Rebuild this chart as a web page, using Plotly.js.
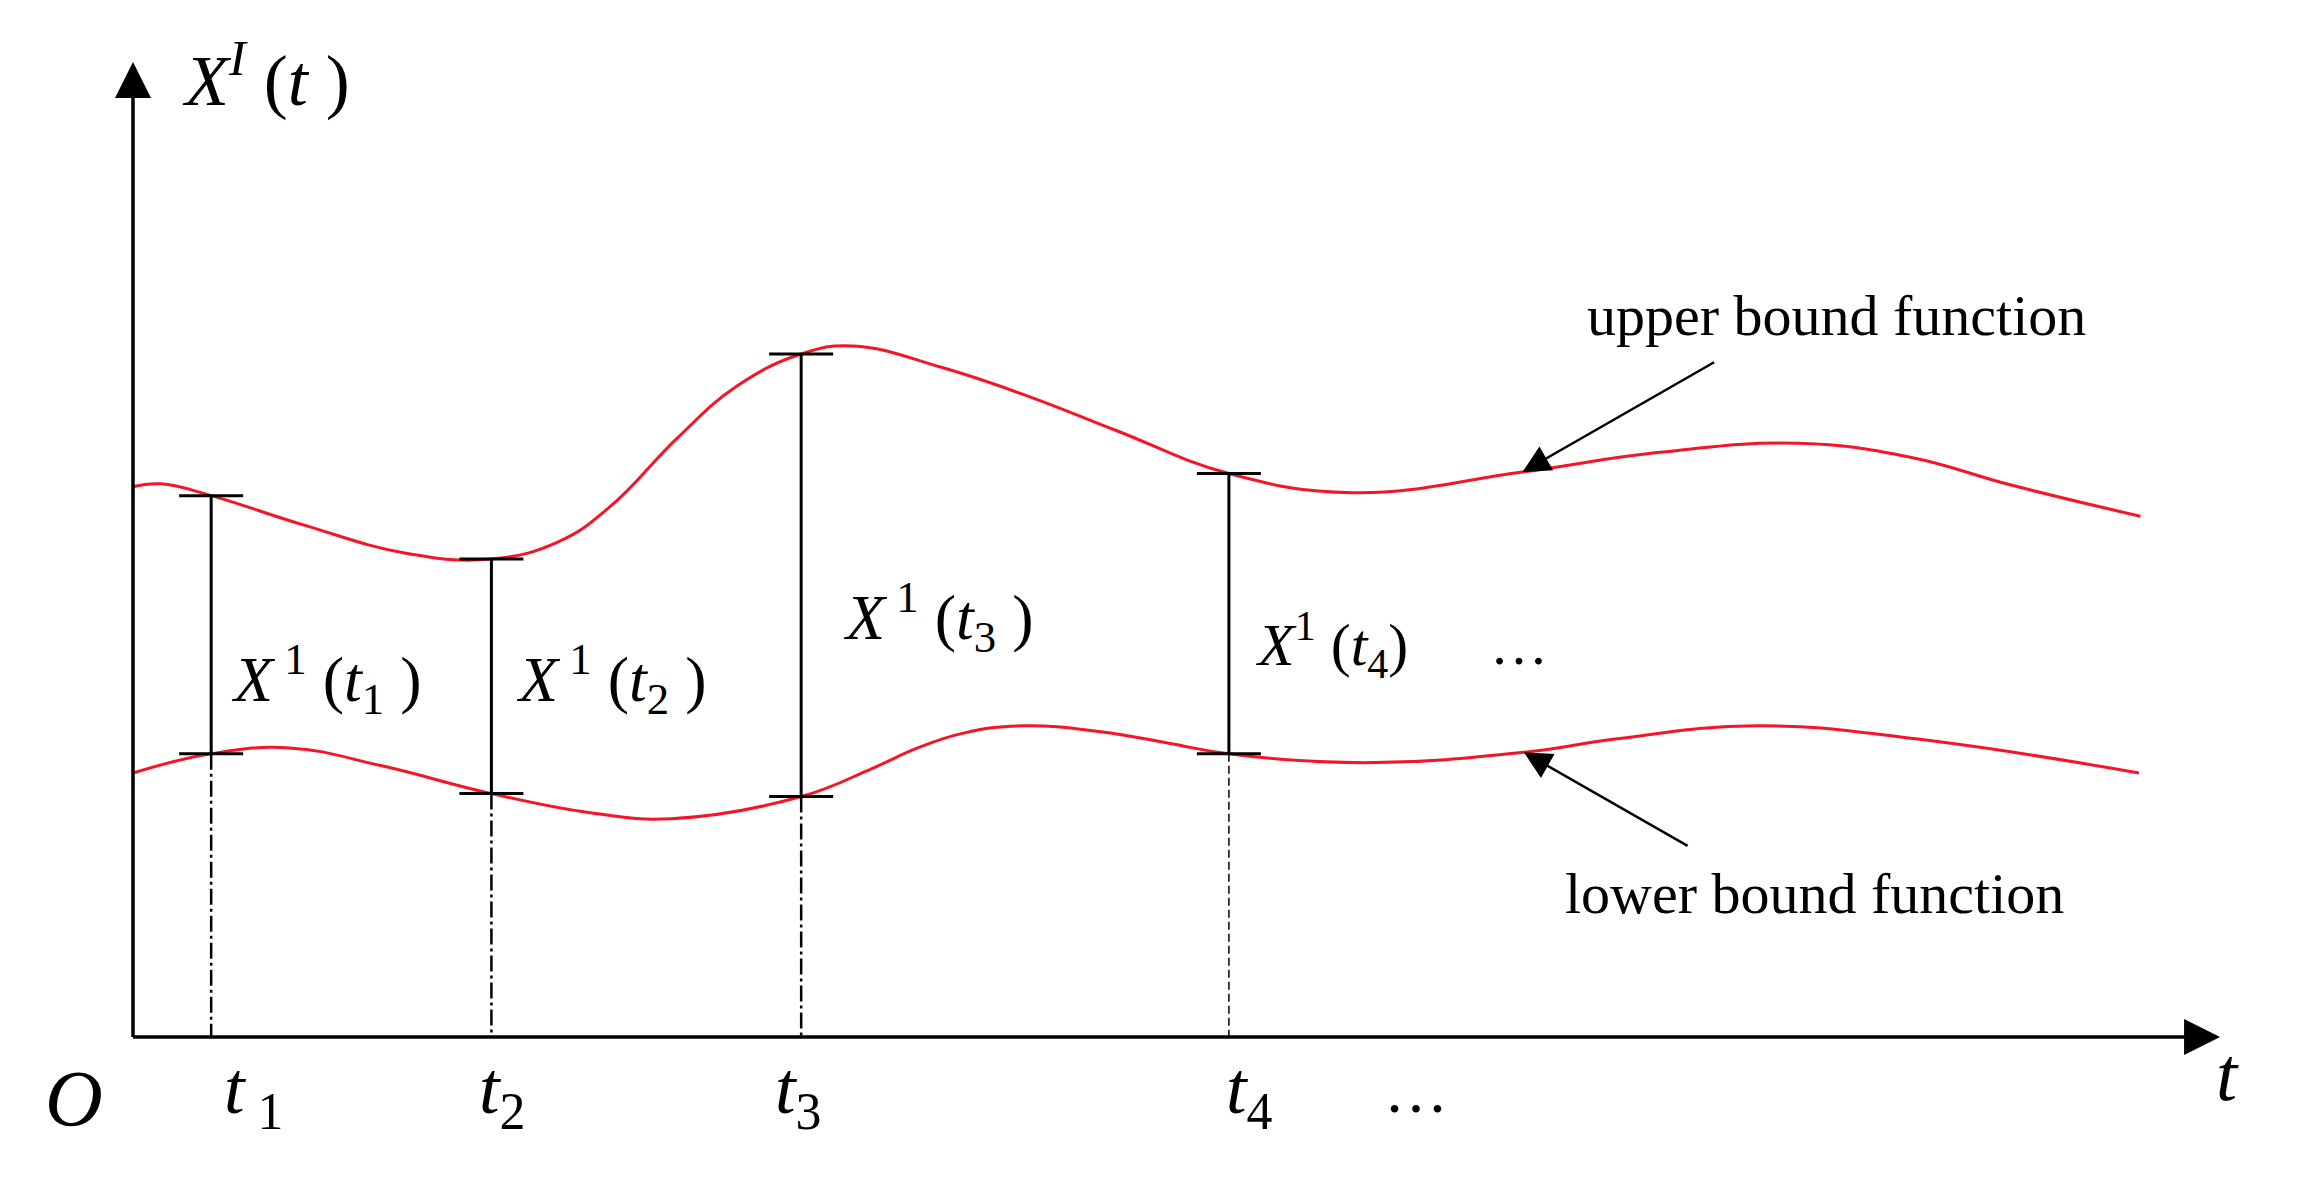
<!DOCTYPE html>
<html>
<head>
<meta charset="utf-8">
<script src="https://cdn.plot.ly/plotly-3.0.1.min.js"></script>
<style>
  html, body { margin: 0; padding: 0; background: #fff; }
  #chart { width: 2313px; height: 1182px; }
</style>
</head>
<body>
<div id="chart"></div>
<script>
// upper bound function
var upperT = [0, 0.19, 0.53, 1.16, 1.85, 2.43, 2.89, 3.24, 3.69, 4.09, 4.53, 4.88, 5.48, 6.08, 6.67, 7.43, 8.27, 9.42, 10.32, 11.29, 12.05, 12.74, 13.61];
var upperX = [3.73, 3.75, 3.67, 3.47, 3.28, 3.24, 3.36, 3.60, 4.06, 4.41, 4.63, 4.685, 4.54, 4.34, 4.11, 3.82, 3.69, 3.83, 3.96, 4.025, 3.93, 3.74, 3.53];

// lower bound function
var lowerT = [0, 0.53, 1.06, 1.68, 2.43, 3.10, 3.65, 4.53, 5.01, 5.32, 5.63, 6.03, 6.56, 7.03, 7.43, 8.34, 9.43, 10.05, 11.01, 12.10, 13.60];
var lowerX = [1.79, 1.92, 1.96, 1.84, 1.65, 1.52, 1.48, 1.63, 1.82, 1.96, 2.06, 2.11, 2.07, 1.99, 1.92, 1.86, 1.93, 2.02, 2.11, 2.02, 1.79];

// sample times and the interval values there
var sampleT = [0.53, 2.43, 4.53, 7.43];
var sampleUpper = [3.67, 3.24, 4.63, 3.82];
var sampleLower = [1.92, 1.65, 1.63, 1.92];
var tickLabels = ['<i>t</i><sub> 1</sub>', '<i>t</i><sub>2</sub>', '<i>t</i><sub>3</sub>', '<i>t</i><sub>4</sub>'];
var tickLabelT = [0.60, 2.33, 4.34, 7.40];
var valueLabels = [
  '<i>X</i><sup> 1</sup> (<i>t</i><sub>1</sub> )',
  '<i>X</i><sup> 1</sup> (<i>t</i><sub>2</sub> )',
  '<i>X</i><sup> 1</sup> (<i>t</i><sub>3</sub> )',
  '<i>X</i><sup>1</sup> (<i>t</i><sub>4</sub>)'
];
var valueLabelT = [0.65, 2.58, 4.80, 7.60];
var valueLabelX = [2.43, 2.43, 2.85, 2.66];

var axisEndT = 14.15, axisEndX = 6.61;
var red = 'rgb(245,20,40)';
var serif = 'Liberation Serif, Times New Roman, serif';

var mid = sampleT.map(function (t, i) { return (sampleUpper[i] + sampleLower[i]) / 2; });
var half = sampleT.map(function (t, i) { return (sampleUpper[i] - sampleLower[i]) / 2; });

function drops(idx) {
  var x = [], y = [];
  idx.forEach(function (i) { x.push(sampleT[i], sampleT[i], null); y.push(sampleLower[i], 0, null); });
  return {x: x, y: y};
}
var d123 = drops([0, 1, 2]), d4 = drops([3]);

var data = [
  {x: upperT, y: upperX, mode: 'lines', line: {color: red, width: 3, shape: 'spline', smoothing: 1.2}},
  {x: lowerT, y: lowerX, mode: 'lines', line: {color: red, width: 3, shape: 'spline', smoothing: 1.2}},
  {x: sampleT, y: mid, mode: 'markers', marker: {size: 1, opacity: 0},
   error_y: {type: 'data', array: half, symmetric: true, color: 'black', thickness: 3, width: 32}},
  {x: d123.x, y: d123.y, mode: 'lines', line: {color: 'black', width: 2.5, dash: '16px,4px,3px,4px'}},
  {x: d4.x, y: d4.y, mode: 'lines', line: {color: 'black', width: 1.5, dash: '8px,4px'}},
  // axes
  {x: [0, 0, null, 0, axisEndT - 0.1], y: [0, axisEndX - 0.1, null, 0, 0], mode: 'lines', line: {color: 'black', width: 3.5}},
  {x: [0], y: [axisEndX], mode: 'markers', marker: {symbol: 'arrow-up', size: 36, color: 'black', line: {width: 0}}},
  {x: [axisEndT], y: [0], mode: 'markers', marker: {symbol: 'arrow-right', size: 36, color: 'black', line: {width: 0}}}
];

var ann = [];
function txt(x, y, text, size, xanchor) {
  ann.push({x: x, y: y, text: text, showarrow: false, xanchor: xanchor || 'center', yanchor: 'middle',
            font: {family: serif, size: size, color: 'black'}});
}
txt(0.32, 6.52, '<i>X</i><sup><i>I</i></sup> (<i>t</i> )', 72, 'left');
txt(-0.40, -0.42, '<i>O</i>', 80);
txt(14.20, -0.25, '<i>t</i>', 76);
txt(8.70, -0.36, '…', 64);
tickLabels.forEach(function (s, i) { txt(tickLabelT[i], -0.38, s, 74, 'left'); });
valueLabels.forEach(function (s, i) { txt(valueLabelT[i], valueLabelX[i], s, i < 3 ? 64 : 60, 'left'); });
txt(9.40, 2.66, '…', 58);
txt(11.55, 4.89, 'upper bound function', 58);
txt(11.40, 0.97, 'lower bound function', 58);

ann.push({x: 9.42, y: 3.83, ax: 10.73, ay: 4.58, axref: 'x', ayref: 'y', text: '', showarrow: true,
          arrowhead: 2, arrowsize: 2.2, arrowwidth: 2.5, arrowcolor: 'black', standoff: 0});
ann.push({x: 9.43, y: 1.93, ax: 10.55, ay: 1.29, axref: 'x', ayref: 'y', text: '', showarrow: true,
          arrowhead: 2, arrowsize: 2.2, arrowwidth: 2.5, arrowcolor: 'black', standoff: 0});

var layout = {
  width: 2313, height: 1182,
  margin: {l: 0, r: 0, t: 0, b: 0},
  showlegend: false,
  paper_bgcolor: 'white', plot_bgcolor: 'white',
  xaxis: {range: [-0.9017, 14.78], visible: false, fixedrange: true},
  yaxis: {range: [-0.983, 7.03], visible: false, fixedrange: true},
  annotations: ann
};

Plotly.newPlot('chart', data, layout, {displayModeBar: false, staticPlot: true});
</script>
</body>
</html>
